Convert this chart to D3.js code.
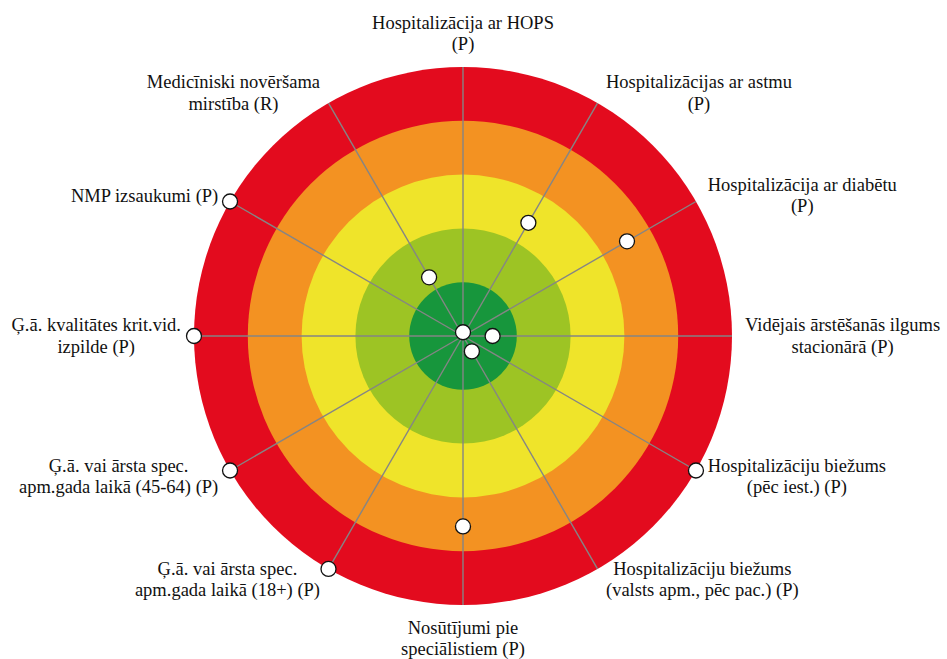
<!DOCTYPE html>
<html>
<head>
<meta charset="utf-8">
<script src="https://cdn.jsdelivr.net/npm/d3@7"></script>
<style>
  body { margin: 0; background: #fff; }
</style>
</head>
<body>
<script>
// categories, clockwise from the top
var categories = [
  "Hospitalizācija ar HOPS\n(P)",
  "Hospitalizācijas ar astmu\n(P)",
  "Hospitalizācija ar diabētu\n(P)",
  "Vidējais ārstēšanās ilgums\nstacionārā (P)",
  "Hospitalizāciju biežums\n(pēc iest.) (P)",
  "Hospitalizāciju biežums\n(valsts apm., pēc pac.) (P)",
  "Nosūtījumi pie\nspeciālistiem (P)",
  "Ģ.ā. vai ārsta spec.\napm.gada laikā (18+) (P)",
  "Ģ.ā. vai ārsta spec.\napm.gada laikā (45-64) (P)",
  "Ģ.ā. kvalitātes krit.vid.\nizpilde (P)",
  "NMP izsaukumi (P)",
  "Medicīniski novēršama\nmirstība (R)"
];

var values = [0.07, 2.43, 3.52, 0.55, 5, 0.33, 3.54, 5, 5, 5, 5, 1.26];

// ring bands (outer value of each band)
var bands = [5, 4, 3, 2, 1];
var bandColors = ["#e30b1e", "#f39222", "#efe42a", "#9dc424", "#17963c"];

var width = 947, height = 659;
var cx = 463, cy = 336, R = 269;
var fontSize = 18.5, lineH = 21.5;

var svg = d3.select("body").append("svg")
    .attr("width", width)
    .attr("height", height)
    .attr("font-family", "Liberation Serif");

var r = d3.scaleLinear().domain([0, 5]).range([0, R]);
var angle = d3.scalePoint()
    .domain(d3.range(categories.length))
    .range([0, 2 * Math.PI * (categories.length - 1) / categories.length]);

var g = svg.append("g")
    .attr("transform", "translate(" + cx + "," + cy + ")");

// coloured rings
g.selectAll("circle.band")
    .data(bands)
  .enter().append("circle")
    .attr("class", "band")
    .attr("r", function(d) { return r(d); })
    .style("fill", function(d, i) { return bandColors[i]; });

// spokes
g.selectAll("line.spoke")
    .data(categories)
  .enter().append("line")
    .attr("class", "spoke")
    .attr("x1", 0).attr("y1", 0)
    .attr("x2", function(d, i) { return Math.sin(angle(i)) * r(5); })
    .attr("y2", function(d, i) { return -Math.cos(angle(i)) * r(5); })
    .style("stroke", "#858585")
    .style("stroke-width", 1.4);

// points
g.selectAll("circle.pt")
    .data(values)
  .enter().append("circle")
    .attr("class", "pt")
    .attr("cx", function(d, i) { return Math.sin(angle(i)) * r(d); })
    .attr("cy", function(d, i) { return -Math.cos(angle(i)) * r(d); })
    .attr("r", 7.5)
    .style("fill", "#fff")
    .style("stroke", "#111")
    .style("stroke-width", 1.3);

// labels, placed next to the outer end of each spoke
categories.forEach(function(label, i) {
  var a = angle(i),
      s = Math.sin(a), c = Math.cos(a);
  var lines = label.split("\n");
  var px = s * r(5), py = -c * r(5);
  var h = lines.length * lineH;

  var t = g.append("text")
      .attr("font-family", "Liberation Serif")
      .attr("font-size", fontSize)
      .attr("fill", "#111")
      .attr("text-anchor", "middle");
  var spans = t.selectAll("tspan")
      .data(lines)
    .enter().append("tspan")
      .text(function(d) { return d; });

  var w = d3.max(spans.nodes(), function(n) { return n.getComputedTextLength(); });
  var pad = 4 + 9 * Math.abs(s);
  var midX, midY;
  if (Math.abs(s) < 0.1) {
    midX = px;
    midY = py - c * (h / 2 + 12);
  } else {
    midX = s > 0 ? px + pad + w / 2 : px - pad - w / 2;
    midY = py - c * 12;
  }
  spans
      .attr("x", midX)
      .attr("y", function(d, j) {
        return midY - (lines.length - 1) * lineH / 2 + j * lineH + 0.33 * fontSize;
      });
});
</script>
</body>
</html>
